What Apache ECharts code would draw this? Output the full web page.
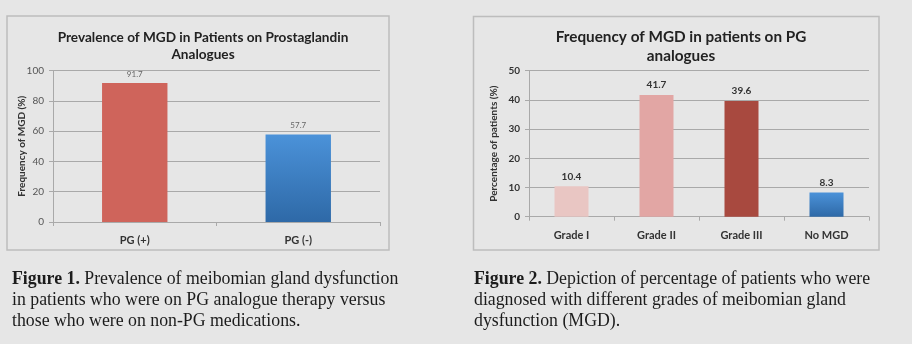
<!DOCTYPE html>
<html>
<head>
<meta charset="utf-8">
<script src="https://cdn.jsdelivr.net/npm/echarts@6/dist/echarts.min.js"></script>
<style>
  html, body { margin: 0; padding: 0; background: #e6e6e6; }
  #chart { width: 912px; height: 344px; }
</style>
</head>
<body>
<div id="chart"></div>
<script>
// Figure 1: prevalence of MGD by prostaglandin analogue use
const fig1Categories = ['PG (+)', 'PG (-)'];
const fig1Values = [91.7, 57.7];
const fig1Ticks = [0, 20, 40, 60, 80, 100];

// Figure 2: MGD grade distribution among PG analogue users
const fig2Categories = ['Grade I', 'Grade II', 'Grade III', 'No MGD'];
const fig2Values = [10.4, 41.7, 39.6, 8.3];
const fig2Ticks = [0, 10, 20, 30, 40, 50];

const fig1Title = 'Prevalence of MGD in Patients on Prostaglandin\nAnalogues';
const fig2Title = 'Frequency of MGD in patients on PG\nanalogues';
const fig1YName = 'Frequency of MGD (%)';
const fig2YName = 'Percentage of patients (%)';

const fig1Caption = [
  ['Figure 1.', ' Prevalence of meibomian gland dysfunction'],
  ['', 'in patients who were on PG analogue therapy versus'],
  ['', 'those who were on non-PG medications.']
];
const fig2Caption = [
  ['Figure 2.', ' Depiction of percentage of patients who were'],
  ['', 'diagnosed with different grades of meibomian gland'],
  ['', 'dysfunction (MGD).']
];

const SANS = 'Lato, "Open Sans", sans-serif';
const SERIF = '"Liberation Serif", "DejaVu Serif", serif';
const GRID_COLOR = '#a9a9a9';

const blueGradient = new echarts.graphic.LinearGradient(0, 0, 0, 1, [
  { offset: 0, color: '#4b92d9' },
  { offset: 1, color: '#2e69a7' }
]);
const fig1Colors = ['#cf645b', blueGradient];
const fig2Colors = ['#e9c6c3', '#e2a6a4', '#a8493f', blueGradient];

function captionElements(lines, x, y0) {
  return lines.map((parts, i) => ({
    type: 'text',
    left: x,
    top: y0 + i * 21,
    style: {
      text: (parts[0] ? '{b|' + parts[0] + '}' : '') + '{r|' + parts[1] + '}',
      rich: {
        b: { fontFamily: SERIF, fontSize: 17.8, fontWeight: 'bold', fill: '#1c1c1c' },
        r: { fontFamily: SERIF, fontSize: 17.8, fill: '#1c1c1c' }
      }
    }
  }));
}

function valueAxis(gridIndex, ticks, name, bold, nameGap) {
  return {
    type: 'value',
    gridIndex,
    min: ticks[0],
    max: ticks[ticks.length - 1],
    interval: ticks[1] - ticks[0],
    name,
    nameLocation: 'middle',
    nameGap,
    nameMoveOverlap: false,
    nameTextStyle: { fontFamily: SANS, fontSize: 10, fontWeight: 'bold', color: '#333' },
    axisLine: { show: true, lineStyle: { color: GRID_COLOR, width: 1 } },
    axisTick: { show: true, length: 4, lineStyle: { color: GRID_COLOR } },
    axisLabel: {
      margin: 9,
      fontFamily: SANS,
      fontSize: 10,
      fontWeight: bold ? 'bold' : 'normal',
      color: bold ? '#333' : '#555'
    },
    splitLine: { show: true, lineStyle: { color: GRID_COLOR, width: 1 } }
  };
}

function categoryAxis(gridIndex, data) {
  return {
    type: 'category',
    gridIndex,
    data,
    axisLine: { show: true, lineStyle: { color: GRID_COLOR, width: 1 } },
    axisTick: { show: true, length: 4, lineStyle: { color: GRID_COLOR } },
    axisLabel: { margin: 13, fontFamily: SANS, fontSize: 11, fontWeight: 'bold', color: '#333' }
  };
}

const chart = echarts.init(document.getElementById('chart'), null, { renderer: 'canvas' });

chart.setOption({
  backgroundColor: '#e6e6e6',
  animation: false,
  title: [
    {
      text: fig1Title,
      left: 198, top: 24, textAlign: 'center',
      textStyle: { fontFamily: SANS, fontSize: 13.6, fontWeight: 'bold', color: '#222', lineHeight: 17, align: 'center' }
    },
    {
      text: fig2Title,
      left: 676, top: 23, textAlign: 'center',
      textStyle: { fontFamily: SANS, fontSize: 15.3, fontWeight: 'bold', color: '#222', lineHeight: 19, align: 'center' }
    }
  ],
  grid: [
    { left: 53, right: 532, top: 70.5, bottom: 122 },
    { left: 529, right: 43, top: 70.7, bottom: 127.3 }
  ],
  xAxis: [categoryAxis(0, fig1Categories), categoryAxis(1, fig2Categories)],
  yAxis: [
    valueAxis(0, fig1Ticks, fig1YName, false, 26),
    valueAxis(1, fig2Ticks, fig2YName, true, 30)
  ],
  series: [
    {
      type: 'bar', xAxisIndex: 0, yAxisIndex: 0, barWidth: '40%',
      data: fig1Values.map((v, i) => ({ value: v, itemStyle: { color: fig1Colors[i] } })),
      label: { show: true, position: 'top', distance: 5, fontFamily: SANS, fontSize: 8, color: '#666' }
    },
    {
      type: 'bar', xAxisIndex: 1, yAxisIndex: 1, barWidth: '40%',
      data: fig2Values.map((v, i) => ({ value: v, itemStyle: { color: fig2Colors[i] } })),
      label: { show: true, position: 'top', distance: 5, fontFamily: SANS, fontSize: 10, fontWeight: 'bold', color: '#333' }
    }
  ],
  graphic: [
    { type: 'rect', shape: { x: 7, y: 16, width: 382, height: 234 }, style: { fill: 'none', stroke: '#bdbdbd', lineWidth: 1.5 }, z: -1 },
    { type: 'rect', shape: { x: 473.5, y: 16.5, width: 405.5, height: 233.5 }, style: { fill: 'none', stroke: '#bdbdbd', lineWidth: 1.5 }, z: -1 }
  ].concat(captionElements(fig1Caption, 12, 270), captionElements(fig2Caption, 474, 270))
});
</script>
</body>
</html>
